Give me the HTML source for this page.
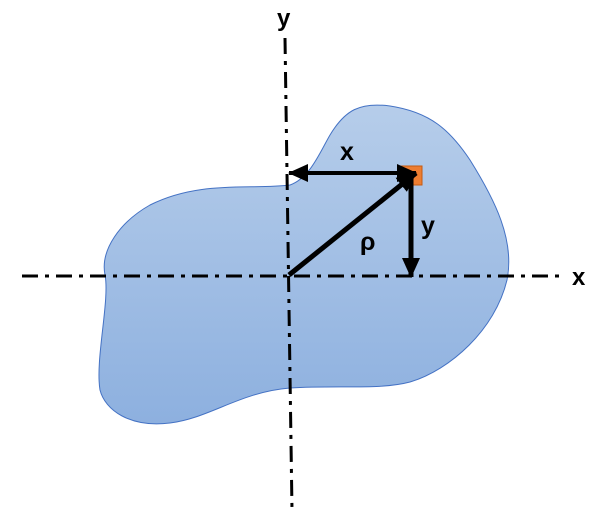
<!DOCTYPE html>
<html><head><meta charset="utf-8"><style>
html,body{margin:0;padding:0;background:#fff;width:610px;height:516px;overflow:hidden}
text{font-family:"Liberation Sans",sans-serif;font-weight:bold;fill:#000}
</style></head><body>
<svg width="610" height="516" viewBox="0 0 610 516">
<defs>
<linearGradient id="g" x1="0" y1="0" x2="0" y2="1">
<stop offset="0" stop-color="#b6cdea"/><stop offset="1" stop-color="#8db0df"/>
</linearGradient>
<marker id="ah" markerWidth="20" markerHeight="18" refX="19" refY="9" orient="auto" markerUnits="userSpaceOnUse">
<path d="M0,0 L20,9 L0,18 Z" fill="#000"/>
</marker>
<marker id="ahs" markerWidth="20" markerHeight="18" refX="1" refY="9" orient="auto" markerUnits="userSpaceOnUse">
<path d="M20,0 L0,9 L20,18 Z" fill="#000"/>
</marker>
</defs>
<path d="M290,185 C250,190 200,180 150,205 C120,222 100,250 105,275 C110,300 95,360 100,390 C105,410 130,428 170,423 C210,418 240,392 290,388 C340,385 380,390 410,382 C450,370 495,330 507,280 C515,240 495,200 470,160 C450,130 430,112 390,106 C360,102 345,110 330,135 C320,152 310,178 290,185 Z" fill="url(#g)" stroke="#4472c4" stroke-width="1"/>
<line x1="22" y1="276" x2="565" y2="276" stroke="#000" stroke-width="3" stroke-dasharray="16,7,4,7"/>
<line x1="285" y1="38" x2="292" y2="510" stroke="#000" stroke-width="3" stroke-dasharray="16,7,4,7"/>
<text x="277" y="26" font-size="24">y</text>
<text x="572" y="285" font-size="24">x</text>
<rect x="401" y="166" width="21" height="19" fill="#ed7d31" stroke="#c55a11" stroke-width="1"/>
<line x1="289" y1="173" x2="416" y2="173" stroke="#000" stroke-width="4" marker-end="url(#ah)" marker-start="url(#ahs)"/>
<line x1="411" y1="176" x2="411" y2="277" stroke="#000" stroke-width="5" marker-end="url(#ah)"/>
<line x1="289" y1="275" x2="416" y2="173" stroke="#000" stroke-width="5" marker-end="url(#ah)"/>
<text x="340" y="160" font-size="25">x</text>
<text x="421" y="234" font-size="25">y</text>
<text x="360" y="250" font-size="25">ρ</text>
</svg>
</body></html>
